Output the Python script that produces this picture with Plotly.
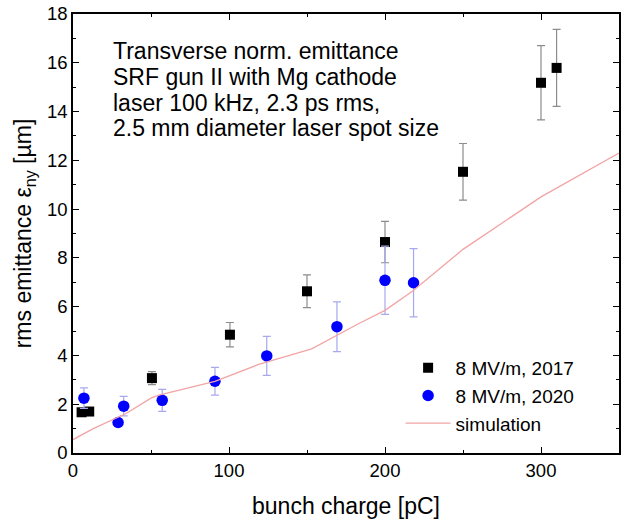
import plotly.graph_objects as go

# 8 MV/m, 2017 (black squares)
q2017 = [5.5, 10.4, 50.6, 100.6, 150.0, 200.0, 250.0, 300.0, 310.0]
e2017 = [1.67, 1.70, 3.07, 4.85, 6.63, 8.65, 11.53, 15.18, 15.79]
err2017 = [0.05, 0.05, 0.27, 0.50, 0.67, 0.85, 1.16, 1.52, 1.58]

# 8 MV/m, 2020 (blue circles)
q2020 = [7.0, 28.9, 32.5, 57.2, 91.0, 124.2, 169.2, 200.0, 218.3]
e2020 = [2.25, 1.25, 1.92, 2.16, 2.94, 3.98, 5.18, 7.08, 6.98]
err2020 = [0.42, 0.15, 0.40, 0.45, 0.57, 0.80, 1.02, 1.40, 1.40]

# simulation (pink line)
qsim = [0, 13, 34, 50, 55, 91, 119, 153, 183, 200, 218, 250, 300, 350]
esim = [0.55, 1.0, 1.62, 2.25, 2.37, 2.94, 3.63, 4.27, 5.3, 5.85, 6.65, 8.35, 10.5, 12.3]

annot_lines = ["Transverse norm. emittance",
               "SRF gun II with Mg cathode",
               "laser 100 kHz, 2.3 ps rms,",
               "2.5 mm diameter laser spot size"]
annot_y = [0.9154, 0.8565, 0.7975, 0.7392]

FONT = "Liberation Sans, Arial, sans-serif"

fig = go.Figure()
fig.add_trace(go.Scatter(
    x=q2017, y=e2017, mode="markers", name="8 MV/m, 2017",
    marker=dict(symbol="square", size=10, color="black"),
    error_y=dict(type="data", array=err2017, color="#8c8c8c", thickness=1.2, width=4),
))
fig.add_trace(go.Scatter(
    x=q2020, y=e2020, mode="markers", name="8 MV/m, 2020",
    marker=dict(symbol="circle", size=11.5, color="#0000ff"),
    error_y=dict(type="data", array=err2020, color="#a8a8ee", thickness=1.2, width=4),
))
fig.add_trace(go.Scatter(
    x=qsim, y=esim, mode="lines", name="simulation",
    line=dict(color="#f2a4a4", width=1.3),
))

for txt, yy in zip(annot_lines, annot_y):
    fig.add_annotation(
        x=0.069, y=yy, xref="paper", yref="paper", xanchor="left", yanchor="middle",
        text=txt, align="left", showarrow=False,
        font=dict(family=FONT, size=23, color="black"),
    )

axis_common = dict(
    showgrid=False, zeroline=False, showline=True, linecolor="black", linewidth=1.5,
    mirror="ticks", ticks="inside", ticklen=6, tickwidth=1.3, tickcolor="black",
    tickfont=dict(family=FONT, size=18.5, color="black"),
)

fig.update_layout(
    width=624, height=521,
    margin=dict(l=73, r=3, t=12, b=68),
    plot_bgcolor="white", paper_bgcolor="white",
    font=dict(family=FONT, color="black"),
    xaxis=dict(range=[0, 350], dtick=100,
               minor=dict(dtick=50, ticks="inside", ticklen=3, tickcolor="black"),
               title=dict(text="bunch charge [pC]", font=dict(family=FONT, size=23), standoff=18),
               **axis_common),
    yaxis=dict(range=[0, 18], dtick=2,
               minor=dict(dtick=1, ticks="inside", ticklen=3, tickcolor="black"),
               title=dict(text="rms emittance ε<sub>ny</sub> [µm]", font=dict(family=FONT, size=23), standoff=9),
               **axis_common),
    legend=dict(x=0.600, y=0.237, xanchor="left", yanchor="top",
                bgcolor="rgba(0,0,0,0)", font=dict(family=FONT, size=19),
                tracegroupgap=0, itemwidth=45),
    showlegend=True,
)

fig.write_html("out.html")
